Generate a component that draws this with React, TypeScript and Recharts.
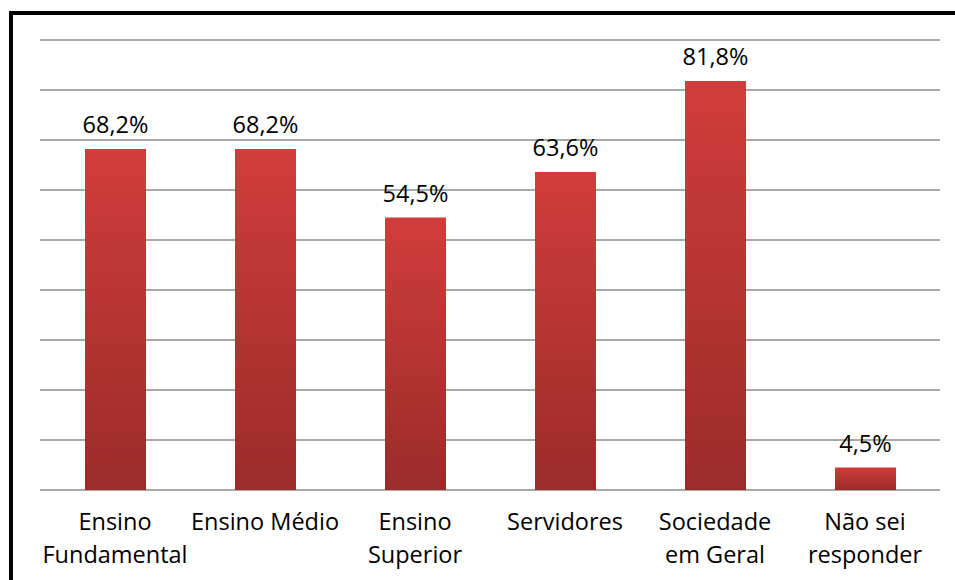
import React from 'react';
import { BarChart, Bar, XAxis, YAxis, CartesianGrid, LabelList } from 'recharts';

const categories = ['Ensino Fundamental', 'Ensino Médio', 'Ensino Superior', 'Servidores', 'Sociedade em Geral', 'Não sei responder'];
const labelLines = [['Ensino', 'Fundamental'], ['Ensino Médio'], ['Ensino', 'Superior'], ['Servidores'], ['Sociedade', 'em Geral'], ['Não sei', 'responder']];
const values = [68.2, 68.2, 54.5, 63.6, 81.8, 4.5];
const yTicks = [0, 10, 20, 30, 40, 50, 60, 70, 80, 90];
const boundaryTicks = [0, 1, 2, 3, 4, 5, 6];

const FONT = "'Open Sans', sans-serif";

const data = categories.map((c, i) => ({ name: c, value: values[i] }));

const CategoryTick = ({ x, y, payload, index }: any) => {
  const lines = labelLines[index] || [payload.value];
  return (
    <g transform={`translate(${x},${y})`}>
      {lines.map((l: string, i: number) => (
        <text key={i} x={0} y={32 + i * 33} textAnchor="middle" fill="#000" fontSize={23.5} fontFamily={FONT}>
          {l}
        </text>
      ))}
    </g>
  );
};

const App: React.FC = () => {
  return (
    <div style={{ position: 'fixed', left: 0, top: 0, width: 955, height: 580, overflow: 'hidden', background: '#fff' }}>
      <div style={{ position: 'absolute', left: 9, top: 11, width: 1000, height: 700, border: '4px solid #000', boxSizing: 'border-box' }} />
      <div style={{ position: 'absolute', left: 0, top: 0 }}>
        <BarChart width={955} height={580} data={data} margin={{ top: 40, right: 15, bottom: 0, left: 40 }} barCategoryGap={0}>
          <defs>
            <linearGradient id="barGrad" x1="0" y1="0" x2="0" y2="1">
              <stop offset="0%" stopColor="#d13d3a" />
              <stop offset="100%" stopColor="#9a2c2a" />
            </linearGradient>
          </defs>
          <CartesianGrid vertical={false} stroke="#8c8c8c" strokeWidth={1.4} />
          <YAxis hide domain={[0, 90]} ticks={yTicks} width={0} />
          <XAxis dataKey="name" height={90} axisLine={false} tickLine={false} interval={0} tick={<CategoryTick />} />
          <XAxis
            xAxisId="b"
            type="number"
            domain={[0, 6]}
            ticks={boundaryTicks}
            height={0}
            stroke="#8c8c8c"
            strokeWidth={1.4}
            tickSize={7}
            tick={false}
          />
          <Bar dataKey="value" fill="url(#barGrad)" barSize={61} isAnimationActive={false}>
            <LabelList
              dataKey="value"
              position="top"
              offset={16}
              fill="#000"
              fontSize={23.5}
              fontFamily={FONT}
              formatter={(v: any) => `${Number(v).toFixed(1).replace('.', ',')}%`}
            />
          </Bar>
        </BarChart>
      </div>
    </div>
  );
};

export default App;
